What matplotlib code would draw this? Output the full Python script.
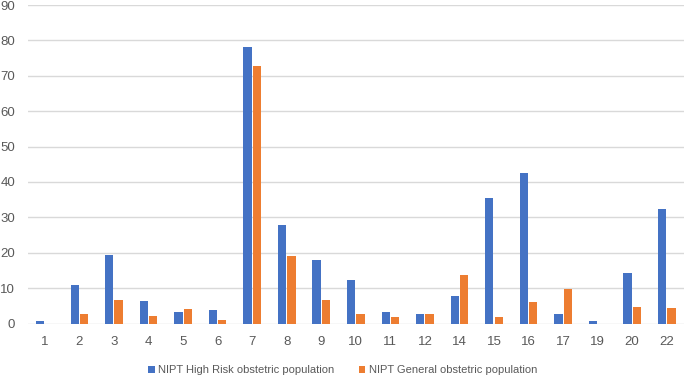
import numpy as np
import matplotlib.pyplot as plt

chromosomes = ["1", "2", "3", "4", "5", "6", "7", "8", "9", "10",
               "11", "12", "14", "15", "16", "17", "19", "20", "22"]
high_risk = [0.6, 11.0, 19.3, 6.3, 3.2, 3.9, 78.0, 27.7, 18.0, 12.2,
             3.2, 2.6, 7.7, 35.5, 42.5, 2.6, 0.6, 14.2, 32.3]
general = [0.0, 2.6, 6.5, 2.2, 4.0, 0.85, 72.8, 19.1, 6.6, 2.6,
           1.8, 2.6, 13.7, 1.8, 6.2, 9.7, 0.0, 4.8, 4.4]
series_names = ["NIPT High Risk obstetric population",
                "NIPT General obstetric population"]

plt.rcParams["font.family"] = ["Liberation Sans", "DejaVu Sans"]

W, H = 685, 377
fig = plt.figure(figsize=(W / 100, H / 100), dpi=100)
ax = fig.add_axes([27.6 / W, 1 - 323.5 / H, (684 - 27.6) / W, (323.5 - 5) / H])

x = np.arange(len(chromosomes))
bw = 0.24
ax.bar(x - 0.135, high_risk, bw, color="#4472C4", label=series_names[0], zorder=3)
ax.bar(x + 0.135, general, bw, color="#ED7D31", label=series_names[1], zorder=3)

ax.set_xlim(-0.5, len(chromosomes) - 0.5)
ax.set_ylim(0, 90)
ax.set_yticks(range(0, 91, 10))
ax.set_xticks(x)
ax.set_xticklabels(chromosomes)
ax.grid(axis="y", color="#D9D9D9", linewidth=1, zorder=0)
for s in ax.spines.values():
    s.set_visible(False)
ax.tick_params(length=0, colors="#595959", labelsize=9.5)
ax.tick_params(axis="x", pad=9)
ax.tick_params(axis="y", pad=9)

leg = fig.legend(loc="center", bbox_to_anchor=(0.5, 1 - 370 / H), ncol=2,
                 frameon=False, fontsize=8, handlelength=0.6, handleheight=0.6,
                 handletextpad=0.3, columnspacing=2.2)
for t in leg.get_texts():
    t.set_color("#595959")

fig.savefig("out.png", dpi=100)
